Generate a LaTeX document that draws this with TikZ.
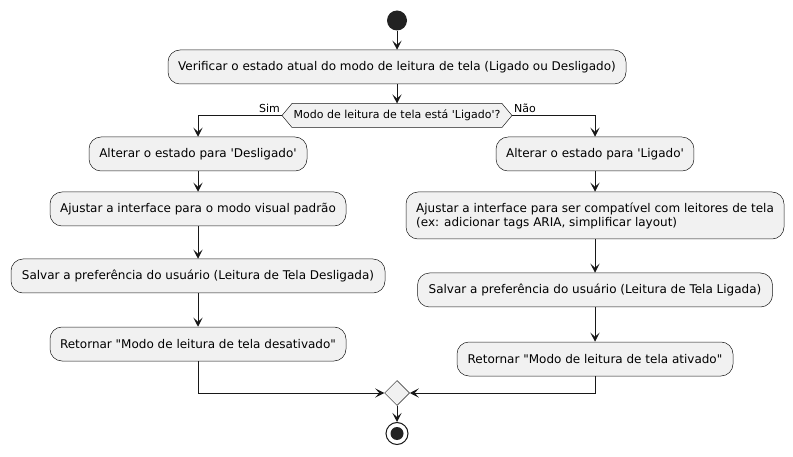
\documentclass[tikz,border=0pt]{standalone}
\usepackage{fontspec}
\setmainfont{DejaVu Sans}[Ligatures=TeXOff]
\usetikzlibrary{arrows.meta,shapes.geometric}
\definecolor{boxfill}{HTML}{F1F1F1}
\definecolor{ln}{HTML}{181818}
\definecolor{startc}{HTML}{222222}
\tikzset{
  act/.style={draw=ln, line width=0.5pt, fill=boxfill, rounded corners=12pt,
    minimum height=34pt, inner xsep=10pt, inner ysep=3pt,
    font=\fontsize{12}{14}\selectfont, align=left},
  arr/.style={draw=ln, line width=1pt, -{Stealth[length=9pt,width=9pt,inset=4pt]}},
  lbl/.style={font=\fontsize{11}{13}\selectfont, inner sep=1pt},
}
\begin{document}
\begin{tikzpicture}[x=1pt,y=-1pt]
\useasboundingbox (0,0) rectangle (793,457);
\node[circle, fill=startc, minimum size=20pt, inner sep=0] (start) at (397,20.5) {};
\node[act, minimum width=458pt] (b1) at (397,67) {Verificar o estado atual do modo de leitura de tela (Ligado ou Desligado)};
% decision hexagon
\coordinate (qL) at (282,115.5);
\coordinate (qR) at (512,115.5);
\coordinate (qT) at (397,103.5);
\filldraw[draw=ln, line width=0.5pt, fill=boxfill] (qL) -- (292,103.5) -- (502,103.5) -- (qR) -- (502,127.5) -- (292,127.5) -- cycle;
\node[font=\fontsize{11}{13}\selectfont, inner sep=0] (q) at (397,115.5) {Modo de leitura de tela está 'Ligado'?};
\node[lbl, anchor=south east] (sim) at (281,114) {Sim};
\node[lbl, anchor=south west] (nao) at (513,114) {Não};
% left branch
\node[act, minimum width=218pt] (L1) at (198,154) {Alterar o estado para 'Desligado'};
\node[act, minimum width=296pt] (L2) at (198,209) {Ajustar a interface para o modo visual padrão};
\node[act, minimum width=374pt] (L3) at (198,276) {Salvar a preferência do usuário (Leitura de Tela Desligada)};
\node[act, minimum width=296pt] (L4) at (198,344) {Retornar "Modo de leitura de tela desativado"};
% right branch
\node[act, minimum width=197pt] (R1) at (595,154) {Alterar o estado para 'Ligado'};
\node[act, minimum width=378pt, minimum height=47pt] (R2) at (595,215.5) {Ajustar a interface para ser compatível com leitores de tela\\(ex: adicionar tags ARIA, simplificar layout)};
\node[act, minimum width=355pt] (R3) at (595,290) {Salvar a preferência do usuário (Leitura de Tela Ligada)};
\node[act, minimum width=276pt] (R4) at (595,359) {Retornar "Modo de leitura de tela ativado"};
% merge and end
\node[diamond, draw=ln, line width=0.5pt, fill=boxfill, minimum width=25pt, minimum height=25pt, inner sep=0] (m) at (397,393) {};
\node[circle, draw=ln, line width=1pt, fill=white, minimum size=22pt, inner sep=0] (end) at (397,433.5) {};
\fill[startc] (end.center) circle (6.5pt);
% connectors
\draw[arr] (start) -- (b1);
\draw[arr] (b1) -- (qT);
\draw[arr] (qL) -| (L1.north);
\draw[arr] (qR) -| (R1.north);
\draw[arr] (L1) -- (L2);
\draw[arr] (L2) -- (L3);
\draw[arr] (L3) -- (L4);
\draw[arr] (R1) -- (R2);
\draw[arr] (R2) -- (R3);
\draw[arr] (R3) -- (R4);
\draw[arr] (L4.south) |- (m.west);
\draw[arr] (R4.south) |- (m.east);
\draw[arr] (m) -- (end);
\end{tikzpicture}
\end{document}
